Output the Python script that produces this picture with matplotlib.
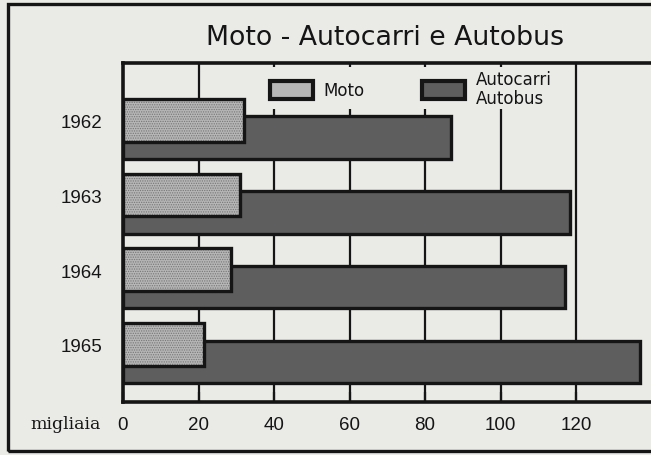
import matplotlib
matplotlib.use("Agg")
import matplotlib.pyplot as plt
from matplotlib.patches import Rectangle, Patch
import numpy as np

years = ["1962", "1963", "1964", "1965"]
moto = [32, 31, 28.5, 21.5]
autocarri = [87, 118.5, 117, 137]
xticks = [0, 20, 40, 60, 80, 100, 120]
title = "Moto - Autocarri e Autobus"
unit_label = "migliaia"
legend_labels = ["Moto", "Autocarri\nAutobus"]

bg = "#eaeae7"
moto_color = "#b6b6b6"
moto_dots = "#767676"
auto_color = "#5e5e5e"
ink = "#151515"

plt.rcParams['font.family'] = ['Liberation Sans', 'DejaVu Sans']
plt.rcParams['hatch.linewidth'] = 0.6

fig = plt.figure(figsize=(6.51, 4.56), dpi=100, facecolor=bg)
ax = fig.add_axes([123/651, 1-403/456, 1-123/651, (403-64)/456])
ax.set_facecolor(bg)

pos = np.arange(len(years))
h = 0.57
off = 0.117
ax.barh(pos + off, autocarri, height=h, color=auto_color, edgecolor=ink,
        linewidth=2.4, zorder=3)
ax.barh(pos - off, moto, height=h, color=moto_color, edgecolor='none',
        linewidth=0, zorder=4)
ax.barh(pos - off, moto, height=h, color='none', edgecolor=moto_dots,
        hatch='.......', linewidth=0, zorder=4.1)
ax.barh(pos - off, moto, height=h, color='none', edgecolor=ink,
        linewidth=2.4, zorder=4.2)

ax.set_xlim(0, 528/3.775)
ax.set_ylim(-0.884 + 339/74.7, -0.884)

for x in xticks[1:]:
    ax.axvline(x, color=ink, lw=1.6, zorder=1)

ax.set_yticks(pos - 0.11)
ax.set_yticklabels(years, fontsize=13.5, color=ink)
ax.tick_params(axis='y', length=0, pad=15)
ax.set_xticks(xticks)
ax.set_xticklabels([str(t) for t in xticks], fontsize=13.5, color=ink)
ax.tick_params(axis='x', direction='in', length=7, width=1.6, pad=10, colors=ink)

for s in ['left', 'top', 'bottom']:
    ax.spines[s].set_linewidth(2.6)
    ax.spines[s].set_color(ink)
ax.spines['right'].set_visible(False)

ax.text(-0.043, -0.062, unit_label, transform=ax.transAxes, ha='right', va='center',
        fontsize=12.5, family=['DejaVu Serif'], color=ink)

handles = [Patch(facecolor=moto_color, edgecolor=ink, linewidth=3),
           Patch(facecolor=auto_color, edgecolor=ink, linewidth=3)]
leg = ax.legend(handles, legend_labels, ncol=2, loc='upper left',
                bbox_to_anchor=((270-123)/528 - 0.0045, 1.0 - 0.012), frameon=True,
                prop={'family': 'DejaVu Sans', 'size': 12},
                handlelength=2.58, handleheight=1.3,
                handletextpad=0.62, columnspacing=3.45, borderaxespad=0,
                borderpad=0.15, labelspacing=0.2)
leg.get_frame().set_facecolor(bg)
leg.get_frame().set_edgecolor('none')
leg.get_frame().set_alpha(1)
leg.set_zorder(2)
for t in leg.get_texts():
    t.set_color(ink)
    t.set_linespacing(1.1)

fig.text(385/651, 1-38/456, title, ha='center', va='center', fontsize=19.3,
         family='DejaVu Sans', color=ink)

fig.patches.append(Rectangle((8/651, 1-452/456), 1.2, (452-5)/456,
                             transform=fig.transFigure, fill=False,
                             edgecolor=ink, linewidth=2.4))

fig.savefig("out.png", dpi=100, facecolor=bg)
